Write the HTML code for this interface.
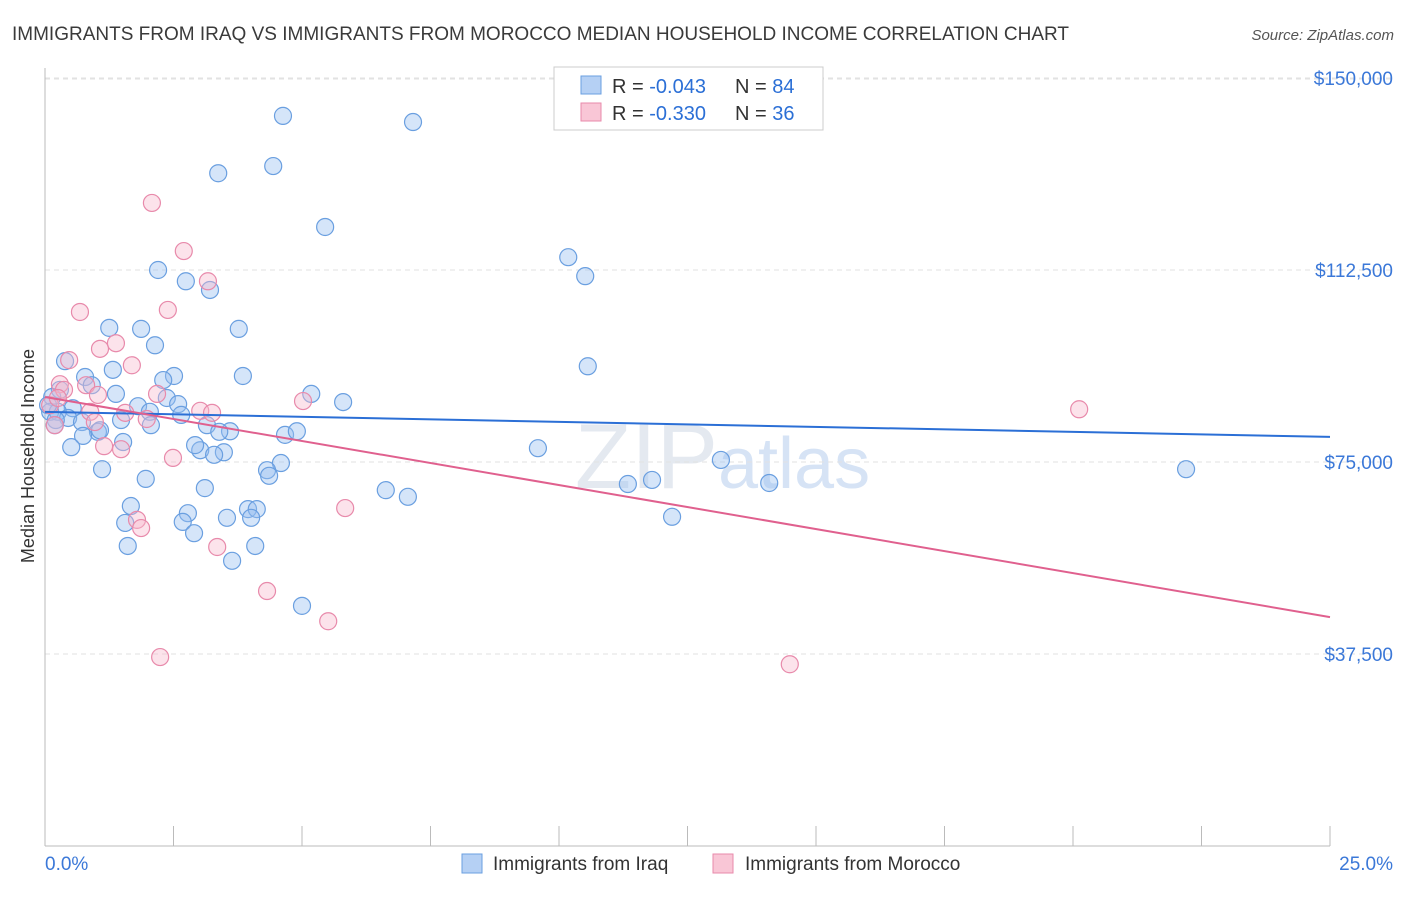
<!DOCTYPE html>
<html><head><meta charset="utf-8"><style>
body{margin:0;background:#fff;font-family:"Liberation Sans",sans-serif;}
svg text{font-family:"Liberation Sans",sans-serif;}
</style></head><body>
<svg id="chart" width="1406" height="892" xmlns="http://www.w3.org/2000/svg">
<text x="12" y="40" font-size="19" fill="#3a3a3a">IMMIGRANTS FROM IRAQ VS IMMIGRANTS FROM MOROCCO MEDIAN HOUSEHOLD INCOME CORRELATION CHART</text>
<text x="1394" y="40" font-size="15" fill="#555" text-anchor="end" font-style="italic">Source: ZipAtlas.com</text>
<text x="718" y="488" font-size="92" fill="#e4e9f0" text-anchor="end" font-family="Liberation Serif">ZIP</text>
<text x="718" y="488" font-size="72" fill="#d6e3f5">atlas</text>
<g id="grid"></g><g id="axes"></g><g id="pts"></g><g id="lines"></g>
<text transform="translate(34,456) rotate(-90)" font-size="18" fill="#333" text-anchor="middle">Median Household Income</text>
<g>
<rect x="554" y="67" width="269" height="63" fill="#fff" stroke="#ccc"/>
<rect x="581" y="76" width="20" height="18" fill="#b5d0f4" stroke="#6a9fe0"/>
<rect x="581" y="103" width="20" height="18" fill="#f9c6d6" stroke="#e88aab"/>
<text x="612" y="93" font-size="20" fill="#333">R = <tspan fill="#2b6fd6">-0.043</tspan></text>
<text x="735" y="93" font-size="20" fill="#333">N = <tspan fill="#2b6fd6">84</tspan></text>
<text x="612" y="120" font-size="20" fill="#333">R = <tspan fill="#2b6fd6">-0.330</tspan></text>
<text x="735" y="120" font-size="20" fill="#333">N = <tspan fill="#2b6fd6">36</tspan></text>
</g>
<g>
<rect x="462" y="854" width="20" height="19" fill="#b5d0f4" stroke="#6a9fe0"/>
<text x="493" y="870" font-size="19" fill="#333">Immigrants from Iraq</text>
<rect x="713" y="854" width="20" height="19" fill="#f9c6d6" stroke="#e88aab"/>
<text x="745" y="870" font-size="19" fill="#333">Immigrants from Morocco</text>
</g>
</svg>
<script>
const yTicks=[37500,75000,112500,150000];
const yTickLabels=["$37,500","$75,000","$112,500","$150,000"];
const xTicks=[0,2.5,5,7.5,10,12.5,15,17.5,20,22.5,25];
const iraqX=[4.63,7.16,3.37,4.44,5.45,10.18,10.51,2.20,2.74,3.21,1.25,1.87,3.77,2.14,0.39,10.56,0.78,1.32,2.51,3.85,2.30,0.91,0.29,5.18,1.38,5.80,0.14,2.37,1.81,2.59,0.54,2.04,2.65,0.10,0.25,0.45,0.72,1.48,2.06,3.15,3.60,3.39,4.67,4.90,1.03,0.74,1.52,0.51,9.59,3.02,3.48,3.29,4.59,13.15,1.11,4.32,4.36,1.96,22.20,3.11,6.63,7.06,11.34,11.81,14.09,1.67,3.95,4.12,2.78,3.54,4.01,1.56,2.68,12.20,2.90,1.61,4.09,3.64,5.00,0.21,0.06,0.19,1.07,2.92];
const iraqY=[142.6,141.4,131.4,132.8,120.9,115.0,111.3,112.5,110.3,108.6,101.2,101.0,101.0,97.8,94.7,93.7,91.6,93.0,91.8,91.8,91.0,90.0,89.1,88.3,88.3,86.7,87.7,87.5,85.9,86.3,85.5,84.8,84.2,84.8,84.8,83.6,82.8,83.2,82.2,82.2,81.0,80.9,80.3,81.0,80.9,80.1,78.9,77.9,77.7,77.3,76.9,76.4,74.8,75.4,73.6,73.4,72.3,71.7,73.6,69.9,69.5,68.2,70.7,71.5,70.9,66.4,65.8,65.8,65.0,64.1,64.1,63.1,63.3,64.3,61.1,58.6,58.6,55.7,46.9,83.2,86.1,82.2,81.2,78.3];
const morX=[2.08,2.70,3.17,0.68,2.39,1.07,1.38,0.47,1.69,0.29,0.37,0.80,2.18,1.03,5.02,0.10,0.88,3.02,3.25,1.56,1.98,0.97,0.19,1.48,1.15,2.49,20.12,5.84,1.79,1.87,3.35,4.32,5.51,2.24,14.49,0.25];
const morY=[125.6,116.2,110.3,104.3,104.7,97.1,98.2,94.9,93.9,90.2,89.1,90.0,88.3,88.1,86.9,86.1,84.8,85.0,84.6,84.6,83.4,82.8,82.2,77.5,78.1,75.8,85.3,66.0,63.7,62.1,58.4,49.8,43.9,36.9,35.5,87.5];
const iraqTrend=[84.8,79.9];
const morTrend=[87.7,44.7];
const trendX=[0,25];
const NS="http://www.w3.org/2000/svg";
const sx=v=>45+v/25*1285;
const sy=v=>846-v/37.5*192;
function mk(p,t,a){const e=document.createElementNS(NS,t);for(const k in a)e.setAttribute(k,a[k]);document.getElementById(p).appendChild(e);return e;}
yTicks.forEach((t,i)=>{
 const l=mk('grid','line',{x1:45,x2:1394,y1:sy(t/1000),y2:sy(t/1000),stroke:'#e2e2e2','stroke-dasharray':'5,4'});
 
 
 const tx=mk('axes','text',{x:1393,y:sy(t/1000)+7,'font-size':19,fill:'#3b78d8','text-anchor':'end'});
 tx.textContent=yTickLabels[i];
 
 
});
const topGrid=mk('grid','line',{x1:45,x2:1394,y1:79,y2:79,stroke:'#e2e2e2','stroke-dasharray':'5,4'});


const ya=mk('axes','line',{x1:45,x2:45,y1:68,y2:846,stroke:'#bbb'});


const xa=mk('axes','line',{x1:45,x2:1330,y1:846,y2:846,stroke:'#bbb'});


xTicks.forEach(t=>{
 const l=mk('axes','line',{x1:sx(t),x2:sx(t),y1:826,y2:846,stroke:'#bbb'});
 
 
});
const x0=mk('axes','text',{x:45,y:870,'font-size':19,fill:'#3b78d8'});x0.textContent='0.0%';


const x1=mk('axes','text',{x:1393,y:870,'font-size':19,fill:'#3b78d8','text-anchor':'end'});x1.textContent='25.0%';


iraqX.forEach((v,i)=>{
 const c=mk('pts','circle',{cx:sx(v),cy:sy(iraqY[i]),r:8.5,fill:'rgba(150,190,240,0.4)',stroke:'#6a9fe0','stroke-width':1.2});
 
 
});
morX.forEach((v,i)=>{
 const c=mk('pts','circle',{cx:sx(v),cy:sy(morY[i]),r:8.5,fill:'rgba(248,185,205,0.4)',stroke:'#e88aab','stroke-width':1.2});
 
 
});
const bl=mk('lines','line',{x1:sx(trendX[0]),x2:sx(trendX[1]),y1:sy(iraqTrend[0]),y2:sy(iraqTrend[1]),stroke:'#2b6fd6','stroke-width':2});


const pl=mk('lines','line',{x1:sx(trendX[0]),x2:sx(trendX[1]),y1:sy(morTrend[0]),y2:sy(morTrend[1]),stroke:'#e0608e','stroke-width':2});


</script>
</body></html>
